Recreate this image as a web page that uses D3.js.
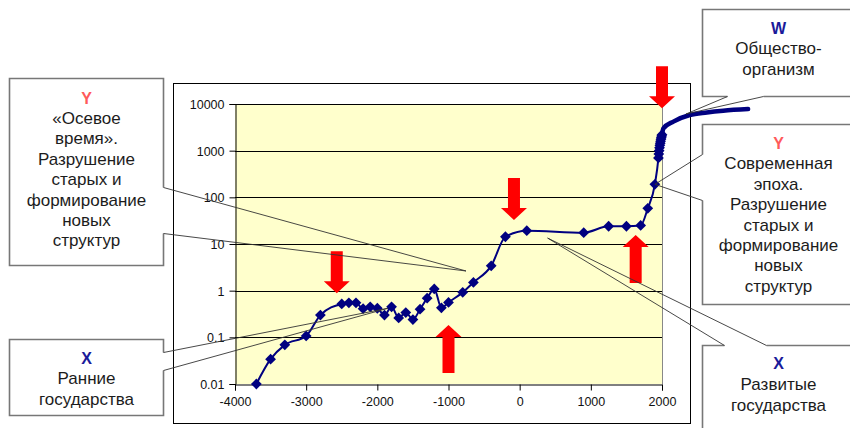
<!DOCTYPE html>
<html>
<head>
<meta charset="utf-8">
<script src="https://cdn.jsdelivr.net/npm/d3@7"></script>
<style>
  body { margin: 0; background: #fff; }
  svg { display: block; font-family: "Liberation Sans", Arial, sans-serif; }
</style>
</head>
<body>
<svg id="chart"></svg>
<script>
// main series (markers)
const years = [-3700, -3500, -3300, -3000, -2800, -2500, -2400, -2300, -2200, -2100, -2000, -1900,
  -1800, -1700, -1600, -1500, -1400, -1300, -1200, -1100, -1000, -800, -650, -400, -200, 100,
  900, 1250, 1500, 1700, 1800, 1900, 1950, 1955, 1960, 1965, 1970, 1975, 1980, 1985, 1990, 1995, 2000];
const values = [0.01, 0.034, 0.069, 0.107, 0.3, 0.52, 0.55, 0.55, 0.41, 0.45, 0.42, 0.3,
  0.45, 0.26, 0.34, 0.24, 0.4, 0.69, 1.09, 0.43, 0.56, 0.92, 1.5, 3.4, 14.3, 19.3,
  17.5, 24, 24, 25, 58, 190, 700, 850, 1000, 1150, 1300, 1450, 1600, 1750, 1900, 2050, 2200];

// hand-drawn continuation (no markers)
const futureYears = [2000, 2020, 2160, 2390, 2630, 2860, 3210];
const futureValues = [2200, 3000, 4200, 5800, 6600, 7200, 7800];

const xTicks = [-4000, -3000, -2000, -1000, 0, 1000, 2000];
const yTicks = [0.01, 0.1, 1, 10, 100, 1000, 10000];
const yTickLabels = ['0.01', '0.1', '1', '10', '100', '1000', '10000'];

// red block arrows: where the tip points
const arrowYears = [-2570, -80, -1000, 1630, 2000];
const arrowValues = [0.88, 32.7, 0.184, 15.6, 8070];
const arrowDirs = ['down', 'down', 'up', 'up', 'down'];

// callout boxes
const calloutHeads = ['Y', 'X', 'W', 'Y', 'X'];
const calloutLines = [
  ['«Осевое', 'время».', 'Разрушение', 'старых и', 'формирование', 'новых', 'структур'],
  ['Ранние', 'государства'],
  ['Общество-', 'организм'],
  ['Современная', 'эпоха.', 'Разрушение', 'старых и', 'формирование', 'новых', 'структур'],
  ['Развитые', 'государства']
];
const calloutTipYears = [-754, -1850, 2337, 1900, 393];
const calloutTipValues = [2.64, 0.42, 6100, 190, 13.4];

const width = 850;
const height = 428;

const svg = d3.select('#chart')
  .attr('width', width)
  .attr('height', height);

const plot = { left: 235, top: 104, right: 662, bottom: 384 };

const x = d3.scaleLinear().domain([-4000, 2000]).range([plot.left, plot.right]);
const y = d3.scaleLog().domain([0.01, 10000]).range([plot.bottom, plot.top]);

// chart frame
svg.append('rect')
  .attr('x', 173.5).attr('y', 83.5)
  .attr('width', 517).attr('height', 340)
  .attr('fill', '#fff')
  .attr('stroke', '#000')
  .attr('stroke-width', 1);

svg.append('rect')
  .attr('x', plot.left).attr('y', plot.top)
  .attr('width', plot.right - plot.left).attr('height', plot.bottom - plot.top)
  .attr('fill', '#ffffcc');

svg.append('path')
  .attr('d', `M${plot.left},${plot.top + 0.5}H${plot.right + 0.5}V${plot.bottom}`)
  .attr('fill', 'none')
  .attr('stroke', '#888');

svg.append('g')
  .selectAll('line')
  .data(yTicks.slice(1))
  .enter()
  .append('line')
  .attr('x1', plot.left).attr('x2', plot.right)
  .attr('y1', d => Math.round(y(d)) + 0.5)
  .attr('y2', d => Math.round(y(d)) + 0.5)
  .attr('stroke', '#000');

const yAxis = svg.append('g')
  .attr('transform', `translate(${plot.left + 0.5},0)`)
  .call(d3.axisLeft(y).tickValues(yTicks).tickFormat((d, i) => yTickLabels[i]).tickSizeOuter(0).tickSize(6).tickPadding(5));

const xAxis = svg.append('g')
  .attr('transform', `translate(0,${plot.bottom + 0.5})`)
  .call(d3.axisBottom(x).tickValues(xTicks).tickFormat(d => String(d)).tickSizeOuter(0).tickSize(6).tickPadding(7));

[yAxis, xAxis].forEach(a => {
  a.selectAll('text').attr('font-size', 12.5).attr('fill', '#111').attr('font-family', '"Liberation Sans", Arial, sans-serif');
  a.select('.domain').attr('stroke', '#000');
});
yAxis.selectAll('text').attr('dy', '0.36em');

// series line
const line = d3.line()
  .x((d, i) => x(years[i]))
  .y(d => y(d))
  .curve(d3.curveMonotoneX);

svg.append('path')
  .datum(values)
  .attr('d', line)
  .attr('fill', 'none')
  .attr('stroke', '#000080')
  .attr('stroke-width', 2);

const futureLine = d3.line()
  .x((d, i) => x(futureYears[i]))
  .y(d => y(d))
  .curve(d3.curveMonotoneX);

svg.append('path')
  .datum(futureValues)
  .attr('d', futureLine)
  .attr('fill', 'none')
  .attr('stroke', '#000080')
  .attr('stroke-width', 4.5)
  .attr('stroke-linecap', 'round');

const diamond = d3.symbol().type(d3.symbolSquare).size(58);

svg.append('g')
  .selectAll('path')
  .data(values)
  .enter()
  .append('path')
  .attr('d', diamond)
  .attr('transform', (d, i) => `translate(${x(years[i])},${y(d)}) rotate(45)`)
  .attr('fill', '#000080');

// arrows
const arrowPath = (tx, ty, dir) => {
  const s = dir === 'down' ? -1 : 1;
  const len = dir === 'down' ? 42 : 48;
  const head = 12;
  const sw = 6;
  const hw = 13;
  const pts = [
    [tx, ty],
    [tx + hw, ty + s * head],
    [tx + sw, ty + s * head],
    [tx + sw, ty + s * len],
    [tx - sw, ty + s * len],
    [tx - sw, ty + s * head],
    [tx - hw, ty + s * head]
  ];
  return 'M' + pts.map(p => p.join(',')).join('L') + 'Z';
};

svg.append('g')
  .selectAll('path')
  .data(arrowValues)
  .enter()
  .append('path')
  .attr('d', (d, i) => arrowPath(x(arrowYears[i]), y(d), arrowDirs[i]))
  .attr('fill', '#ff0000');

// callout boxes layout
const boxes = [
  { x: 9.5, y: 78.5, w: 154, h: 187, side: 'right', gap: [109, 155], dy: 19, step: 20.4 },
  { x: 9.5, y: 339.5, w: 154, h: 76, side: 'right', gap: [13, 31], dy: 18, step: 20.5 },
  { x: 702.5, y: 9.5, w: 152, h: 87, side: 'bottom', gap: [25, 61], dy: 18, step: 20.5 },
  { x: 702.5, y: 124.5, w: 152, h: 180, side: 'left', gap: [30, 76], dy: 18.5, step: 20.4 },
  { x: 702.5, y: 345.5, w: 152, h: 90, side: 'top', gap: [22, 64], dy: 17, step: 21 }
];

boxes.forEach((b, i) => {
  const g = svg.append('g');
  const L = b.x, T = b.y, R = b.x + b.w, B = b.y + b.h;
  let outline, g1, g2;
  if (b.side === 'right') {
    g1 = [R, T + b.gap[0]]; g2 = [R, T + b.gap[1]];
    outline = `M${g1}L${R},${T}L${L},${T}L${L},${B}L${R},${B}L${g2}`;
  } else if (b.side === 'left') {
    g1 = [L, T + b.gap[0]]; g2 = [L, T + b.gap[1]];
    outline = `M${g1}L${L},${T}L${R},${T}L${R},${B}L${L},${B}L${g2}`;
  } else if (b.side === 'bottom') {
    g1 = [L + b.gap[0], B]; g2 = [L + b.gap[1], B];
    outline = `M${g1}L${L},${B}L${L},${T}L${R},${T}L${R},${B}L${g2}`;
  } else {
    g1 = [L + b.gap[0], T]; g2 = [L + b.gap[1], T];
    outline = `M${g1}L${L},${T}L${L},${B}L${R},${B}L${R},${T}L${g2}`;
  }
  g.append('rect')
    .attr('x', L).attr('y', T).attr('width', b.w).attr('height', b.h)
    .attr('fill', '#fff');
  g.append('path')
    .attr('d', outline)
    .attr('fill', 'none')
    .attr('stroke', '#777')
    .attr('stroke-width', 1.6);
  const tip = [x(calloutTipYears[i]), y(calloutTipValues[i])];
  g.append('path')
    .attr('d', `M${g1}L${tip}L${g2}`)
    .attr('fill', 'none')
    .attr('stroke', '#333')
    .attr('stroke-width', 0.9);

  const cx = L + b.w / 2;
  const text = g.append('text')
    .attr('text-anchor', 'middle')
    .attr('font-size', 17)
    .attr('dominant-baseline', 'central');
  text.append('tspan')
    .attr('x', cx).attr('y', T + b.dy)
    .attr('fill', calloutHeads[i] === 'Y' ? '#ff5a5a' : '#1a1a9a')
    .attr('font-weight', 'bold')
    .attr('font-size', 16)
    .text(calloutHeads[i]);
  calloutLines[i].forEach((t, j) => {
    text.append('tspan')
      .attr('x', cx).attr('y', T + b.dy + b.step * (j + 1))
      .attr('fill', '#1c1c1c')
      .text(t);
  });
});
</script>
</body>
</html>
